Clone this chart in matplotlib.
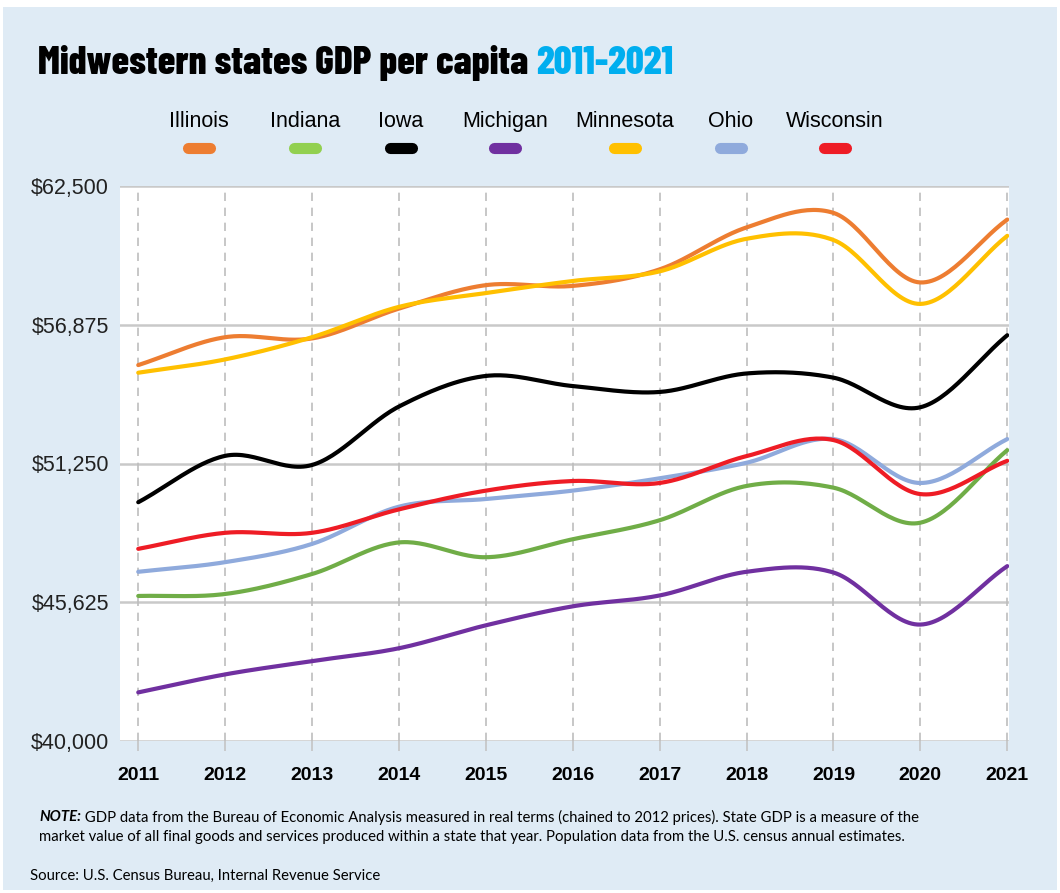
import os
import numpy as np
import matplotlib
matplotlib.use("Agg")
import matplotlib.pyplot as plt
from matplotlib import font_manager
from matplotlib.font_manager import FontProperties
from matplotlib.patches import Rectangle
from matplotlib.lines import Line2D

years = [2011, 2012, 2013, 2014, 2015, 2016, 2017, 2018, 2019, 2020, 2021]
illinois = [55240, 56370, 56320, 57530, 58480, 58450, 59120, 60820, 61410, 58590, 61140]
indiana = [45880, 45960, 46770, 48050, 47450, 48180, 48950, 50340, 50270, 48850, 51790]
iowa = [49680, 51560, 51190, 53560, 54800, 54390, 54150, 54900, 54730, 53530, 56450]
michigan = [41970, 42700, 43240, 43760, 44690, 45460, 45900, 46860, 46830, 44720, 47090]
minnesota = [54930, 55470, 56370, 57600, 58160, 58650, 59040, 60360, 60310, 57720, 60480]
ohio = [46860, 47250, 47990, 49500, 49810, 50150, 50650, 51280, 52240, 50460, 52240]
wisconsin = [47790, 48440, 48440, 49390, 50150, 50540, 50460, 51550, 52200, 50010, 51360]

states = ["Illinois", "Indiana", "Iowa", "Michigan", "Minnesota", "Ohio", "Wisconsin"]
series = [illinois, indiana, iowa, michigan, minnesota, ohio, wisconsin]
colors = ["#ed7d31", "#70ad47", "#000000", "#7030a0", "#ffc000", "#8faadc", "#ee1c25"]
legend_colors = ["#ed7d31", "#92d050", "#000000", "#7030a0", "#ffc000", "#8faadc", "#ee1c25"]
yticks = [40000, 45625, 51250, 56875, 62500]

font_files = {os.path.basename(f.fname): f.fname for f in font_manager.fontManager.ttflist}


def pick(*cands):
    for c in cands:
        if c in font_files:
            return FontProperties(fname=font_files[c])
    return FontProperties(family="DejaVu Sans")


title_fp = pick("BarlowCondensed-ExtraBold.ttf", "BarlowCondensed-Bold.ttf", "DejaVuSansCondensed-Bold.ttf")
note_fp = pick("PTSans-Regular.ttf", "SourceSans3-Regular.ttf", "SourceSansPro-Regular.ttf",
               "Lato-Regular.ttf", "OpenSans-Regular.ttf", "DejaVuSansCondensed.ttf")
note_bi = pick("PTSans-BoldItalic.ttf", "SourceSans3-BoldItalic.ttf", "SourceSansPro-BoldItalic.ttf",
               "Lato-BoldItalic.ttf", "DejaVuSansCondensed-BoldOblique.ttf")
sans = pick("LiberationSans-Regular.ttf", "DejaVuSans.ttf")
sans_b = pick("LiberationSans-Bold.ttf", "DejaVuSans-Bold.ttf")


def sized(fp, size):
    f = fp.copy()
    f.set_size(size)
    return f


def catmull(xs, ys, n=30):
    x = np.asarray(xs, float)
    y = np.asarray(ys, float)
    xp = np.concatenate([[2 * x[0] - x[1]], x, [2 * x[-1] - x[-2]]])
    yp = np.concatenate([[2 * y[0] - y[1]], y, [2 * y[-1] - y[-2]]])
    ox, oy = [], []
    t = np.linspace(0, 1, n, endpoint=False)
    for i in range(1, len(xp) - 2):
        for arr, out in ((xp, ox), (yp, oy)):
            p0, p1, p2, p3 = arr[i - 1], arr[i], arr[i + 1], arr[i + 2]
            out.extend(0.5 * (2 * p1 + (-p0 + p2) * t + (2 * p0 - 5 * p1 + 4 * p2 - p3) * t ** 2
                              + (-p0 + 3 * p1 - 3 * p2 + p3) * t ** 3))
    ox.append(x[-1])
    oy.append(y[-1])
    return np.array(ox), np.array(oy)


W, H = 1060, 893
fig = plt.figure(figsize=(W / 100, H / 100), dpi=100)
fig.patch.set_facecolor("white")
fig.add_artist(Rectangle((3 / W, 3 / H), 1054 / W, 883 / H, transform=fig.transFigure,
                         facecolor="#dfebf5", edgecolor="none", zorder=0))

ax = fig.add_axes([120 / W, 1 - 741 / H, 889 / W, 555 / H])
ax.set_facecolor("white")
ax.set_xlim(2010.79, 2021.02)
ax.set_ylim(40000, 62500)
for s in ax.spines.values():
    s.set_visible(False)

for yv in yticks:
    ax.axhline(yv, color="#c9c9c9", lw=1.8, zorder=1)
for xv in years:
    ax.axvline(xv, color="#bdbdbd", lw=1.2, ls=(0, (5, 4)), zorder=1)

order = [5, 1, 3, 2, 0, 4, 6]
for i in order:
    sx, sy = catmull(years, series[i])
    ax.plot(sx, sy, color=colors[i], lw=3, solid_capstyle="round", zorder=3)

ax.set_yticks(yticks)
ax.set_yticklabels(["${:,}".format(v) for v in yticks], fontproperties=sized(sans, 15.5), color="#222222")
ax.set_xticks(years)
ax.set_xticklabels([str(y) for y in years], fontproperties=sized(sans_b, 14))
ax.tick_params(axis="y", length=0, pad=8)
ax.tick_params(axis="x", length=7, width=1.2, color="#c4c4c4", direction="out", pad=12)

# title
t1 = fig.text(38 / W, 1 - 74 / H, "Midwestern states GDP per capita ",
              fontproperties=sized(title_fp, 30), color="black")
t2 = fig.text(0.5, 1 - 74 / H, "2011-2021", fontproperties=sized(title_fp, 30), color="#00aeef")
fig.canvas.draw()
w_all = t1.get_window_extent().width + t2.get_window_extent().width
scale = 635 / w_all
t1.set_fontsize(30 * scale)
t2.set_fontsize(30 * scale)
fig.canvas.draw()
t2.set_x(t1.get_window_extent().x1 / W)

# legend
lab_x = [199, 305, 401, 505, 625, 731, 835]
for name, c, xc in zip(states, legend_colors, lab_x):
    fig.text(xc / W, 1 - 127 / H, name, fontproperties=sized(sans, 15.5), ha="center", va="baseline")
    fig.add_artist(Line2D([(xc - 11) / W, (xc + 11) / W], [1 - 148 / H, 1 - 148 / H],
                          transform=fig.transFigure, color=c, lw=8, solid_capstyle="round"))

# notes
nt = fig.text(39 / W, 1 - 817 / H, "NOTE:", fontproperties=sized(note_bi, 11), va="center")
rest1 = fig.text(0.5, 1 - 817 / H,
                 " GDP data from the Bureau of Economic Analysis measured in real terms (chained to 2012 prices). "
                 "State GDP is a measure of the", fontproperties=sized(note_fp, 11), va="center")
fig.canvas.draw()
w1 = nt.get_window_extent().width + rest1.get_window_extent().width
ns = 11 * (920 - 39) / w1
nt.set_fontsize(ns)
rest1.set_fontsize(ns)
fig.canvas.draw()
rest1.set_x(nt.get_window_extent().x1 / W)
fig.text(39 / W, 1 - 837 / H,
         "market value of all final goods and services produced within a state that year. "
         "Population data from the U.S. census annual estimates.",
         fontproperties=sized(note_fp, ns), va="center")
fig.text(30 / W, 1 - 876 / H, "Source: U.S. Census Bureau, Internal Revenue Service",
         fontproperties=sized(note_fp, ns), va="center")

fig.savefig("out.png", dpi=100, facecolor=fig.get_facecolor())
